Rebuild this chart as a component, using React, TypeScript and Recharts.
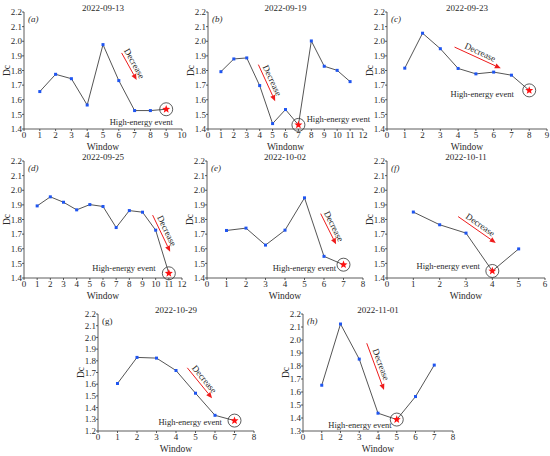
import { LineChart, Line, XAxis, YAxis, ReferenceLine, ReferenceDot } from 'recharts';

const FONT = '"Liberation Serif", "Times New Roman", serif';
const INK = '#2a2a2a';

// Dc per window, one array per date
const dcA = [1.656, 1.774, 1.744, 1.564, 1.977, 1.731, 1.526, 1.526, 1.535];
const dcB = [1.792, 1.879, 1.886, 1.697, 1.437, 1.533, 1.428, 2.002, 1.829, 1.801, 1.724];
const dcC = [1.816, 2.055, 1.949, 1.814, 1.777, 1.789, 1.768, 1.664];
const dcD = [1.893, 1.955, 1.918, 1.866, 1.902, 1.889, 1.745, 1.861, 1.85, 1.727, 1.432];
const dcE = [1.725, 1.741, 1.625, 1.727, 1.948, 1.548, 1.491];
const dcF = [1.851, 1.764, 1.707, 1.448, 1.599];
const dcG = [1.606, 1.829, 1.823, 1.717, 1.523, 1.334, 1.289];
const dcH = [1.652, 2.123, 1.853, 1.437, 1.388, 1.565, 1.807];

const dates = ['2022-09-13', '2022-09-19', '2022-09-23', '2022-09-25', '2022-10-02', '2022-10-11', '2022-10-29', '2022-11-01'];

const yTicks14 = [1.4, 1.5, 1.6, 1.7, 1.8, 1.9, 2.0, 2.1, 2.2];
const yTicks12 = [1.2, 1.3, 1.4, 1.5, 1.6, 1.7, 1.8, 1.9, 2.0, 2.1, 2.2];
const yTicks13 = [1.3, 1.4, 1.5, 1.6, 1.7, 1.8, 1.9, 2.0, 2.1, 2.2];
const xTicks6 = [0, 1, 2, 3, 4, 5, 6];
const xTicks8 = [0, 1, 2, 3, 4, 5, 6, 7, 8];
const xTicks9 = [0, 1, 2, 3, 4, 5, 6, 7, 8, 9];
const xTicks10 = [0, 1, 2, 3, 4, 5, 6, 7, 8, 9, 10];
const xTicks12 = [0, 1, 2, 3, 4, 5, 6, 7, 8, 9, 10, 11, 12];

const toRows = (dc: number[]) => dc.map((v, i) => ({ w: i + 1, dc: v }));

const starPath = (cx: number, cy: number, ro: number, ri: number) => {
  let d = '';
  for (let i = 0; i < 10; i++) {
    const r = i % 2 === 0 ? ro : ri;
    const a = -Math.PI / 2 + (i * Math.PI) / 5;
    d += `${i === 0 ? 'M' : 'L'}${cx + r * Math.cos(a)},${cy + r * Math.sin(a)}`;
  }
  return d + 'Z';
};

const Arrow = (p: any) => {
  const { x1, y1, x2, y2 } = p;
  const dx = x2 - x1;
  const dy = y2 - y1;
  const len = Math.sqrt(dx * dx + dy * dy);
  const ux = dx / len;
  const uy = dy / len;
  const hx = x2 - ux * 6;
  const hy = y2 - uy * 6;
  const mx = (x1 + x2) / 2 + uy * 6;
  const my = (y1 + y2) / 2 - ux * 6;
  const ang = (Math.atan2(dy, dx) * 180) / Math.PI;
  return (
    <g>
      <line x1={x1} y1={y1} x2={hx} y2={hy} stroke="#ee1c1c" strokeWidth={1} />
      <polygon
        points={`${x2},${y2} ${hx - uy * 2.6},${hy + ux * 2.6} ${hx + uy * 2.6},${hy - ux * 2.6}`}
        fill="#ee1c1c"
      />
      <text
        x={mx}
        y={my}
        transform={`rotate(${ang}, ${mx}, ${my})`}
        textAnchor="middle"
        dominantBaseline="central"
        fontSize={9}
        fontFamily={FONT}
        fill={INK}
      >
        Decrease
      </text>
    </g>
  );
};

interface PanelProps {
  left: number;
  top: number;
  w: number;
  h: number;
  dc: number[];
  event: number;
  title: string;
  tag: string;
  italicTag?: boolean;
  xLabel: string;
  xTicks: number[];
  yTicks: number[];
  arrow: [number, number, number, number];
  note: [number, number, 'start' | 'end'];
}

const Panel = ({ left, top, w, h, dc, event, title, tag, italicTag = true, xLabel, xTicks, yTicks, arrow, note }: PanelProps) => {
  const rows = toRows(dc);
  const xMax = xTicks[xTicks.length - 1];
  const yMin = yTicks[0];
  const yMax = yTicks[yTicks.length - 1];
  const axisStyle = { stroke: '#333', strokeWidth: 0.8 };
  const tickStyle = { fontSize: 9, fill: INK, fontFamily: FONT };

  return (
    <>
      <div
        style={{
          position: 'absolute', left, top: top - 10, width: w, textAlign: 'center',
          fontSize: 9, lineHeight: '12px', fontFamily: FONT, color: INK,
        }}
      >
        {title}
      </div>
      <div
        style={{
          position: 'absolute', left: left + 4, top: top + 1, fontSize: 9, lineHeight: '12px',
          fontFamily: FONT, fontStyle: italicTag ? 'italic' : 'normal', color: INK,
        }}
      >
        {tag}
      </div>
      <div style={{ position: 'absolute', left: left - 30, top: top - 14 }}>
        <LineChart width={w + 40} height={h + 40} data={rows} margin={{ top: 14, right: 10, bottom: 0, left: 0 }}>
          <XAxis
            dataKey="w"
            type="number"
            domain={[0, xMax]}
            ticks={xTicks}
            interval={0}
            height={26}
            tick={tickStyle}
            tickSize={2}
            tickMargin={1}
            axisLine={axisStyle}
            tickLine={axisStyle}
            label={{
              content: (lp: any) => {
                const vb = lp.viewBox;
                return (
                  <text
                    x={vb.x + vb.width / 2}
                    y={vb.y + 18}
                    textAnchor="middle"
                    dominantBaseline="central"
                    fontSize={9.5}
                    fontFamily={FONT}
                    fill={INK}
                  >
                    {xLabel}
                  </text>
                );
              },
            }}
          />
          <YAxis
            type="number"
            domain={[yMin, yMax]}
            ticks={yTicks}
            interval={0}
            width={30}
            tick={tickStyle}
            tickSize={2}
            tickMargin={0}
            tickFormatter={(v: number) => v.toFixed(1)}
            axisLine={axisStyle}
            tickLine={axisStyle}
            label={{
              content: (lp: any) => {
                const vb = lp.viewBox;
                const cx = vb.x + vb.width - 17;
                const cy = vb.y + vb.height / 2;
                return (
                  <text
                    x={cx}
                    y={cy}
                    transform={`rotate(-90, ${cx}, ${cy})`}
                    textAnchor="middle"
                    dominantBaseline="central"
                    fontSize={9.5}
                    fontFamily={FONT}
                    fill={INK}
                  >
                    Dc
                  </text>
                );
              },
            }}
          />
          <Line
            dataKey="dc"
            stroke="#555"
            strokeWidth={1}
            isAnimationActive={false}
            dot={(p: any) =>
              p.index === event ? (
                <g key={p.index}>
                  <circle cx={p.cx} cy={p.cy} r={6.5} fill="none" stroke="#333" strokeWidth={0.8} />
                  <path d={starPath(p.cx, p.cy, 4.2, 1.8)} fill="#ff1010" />
                </g>
              ) : (
                <rect key={p.index} x={p.cx - 1.5} y={p.cy - 1.5} width={3} height={3} fill="#1f55f0" />
              )
            }
            activeDot={false}
          />
          <ReferenceLine
            segment={[{ x: arrow[0], y: arrow[1] }, { x: arrow[2], y: arrow[3] }]}
            ifOverflow="visible"
            shape={Arrow}
          />
          <ReferenceDot
            x={note[0]}
            y={note[1]}
            r={0}
            ifOverflow="visible"
            shape={(p: any) => (
              <text
                x={p.cx}
                y={p.cy}
                textAnchor={note[2]}
                dominantBaseline="central"
                fontSize={8.5}
                fontFamily={FONT}
                fill={INK}
              >
                High-energy event
              </text>
            )}
          />
        </LineChart>
      </div>
    </>
  );
};

export default function App() {
  return (
    <div style={{ position: 'absolute', left: 0, top: 0, width: 550, height: 456, background: '#fff', overflow: 'hidden' }}>
      <Panel left={24} top={12} w={158} h={117} dc={dcA} event={8} title={dates[0]} tag="(a)" xLabel="Window"
        xTicks={xTicks10} yTicks={yTicks14} arrow={[6.18, 1.92, 7.13, 1.735]} note={[9.43, 1.45, 'end']} />
      <Panel left={208} top={12} w={155} h={117} dc={dcB} event={6} title={dates[1]} tag="(b)" xLabel="Windonw"
        xTicks={xTicks12} yTicks={yTicks14} arrow={[3.9, 1.84, 5.2, 1.59]} note={[7.64, 1.466, 'start']} />
      <Panel left={387} top={12} w={160} h={117} dc={dcC} event={7} title={dates[2]} tag="(c)" xLabel="Window"
        xTicks={xTicks9} yTicks={yTicks14} arrow={[3.8, 1.96, 6.4, 1.815]} note={[7.14, 1.64, 'end']} />
      <Panel left={24} top={161} w={158} h={117} dc={dcD} event={10} title={dates[3]} tag="(d)" xLabel="Window"
        xTicks={xTicks12} yTicks={yTicks14} arrow={[9.77, 1.83, 11.1, 1.58]} note={[10.0, 1.47, 'end']} />
      <Panel left={207} top={161} w={156} h={117} dc={dcE} event={6} title={dates[4]} tag="(e)" xLabel="Window"
        xTicks={xTicks8} yTicks={yTicks14} arrow={[5.83, 1.84, 6.62, 1.63]} note={[6.62, 1.47, 'end']} />
      <Panel left={387} top={161} w={158} h={117} dc={dcF} event={3} title={dates[5]} tag="(f)" xLabel="Window"
        xTicks={xTicks6} yTicks={yTicks14} arrow={[2.7, 1.82, 4.13, 1.64]} note={[3.53, 1.48, 'end']} />
      <Panel left={98} top={314} w={156} h={117} dc={dcG} event={6} title={dates[6]} tag="(g)" italicTag={false} xLabel="Window"
        xTicks={xTicks8} yTicks={yTicks12} arrow={[4.58, 1.74, 5.85, 1.48]} note={[6.35, 1.28, 'end']} />
      <Panel left={303} top={314} w={150} h={117} dc={dcH} event={4} title={dates[7]} tag="(h)" xLabel="Window"
        xTicks={xTicks8} yTicks={yTicks13} arrow={[3.4, 1.975, 4.32, 1.615]} note={[4.73, 1.35, 'end']} />
    </div>
  );
}
